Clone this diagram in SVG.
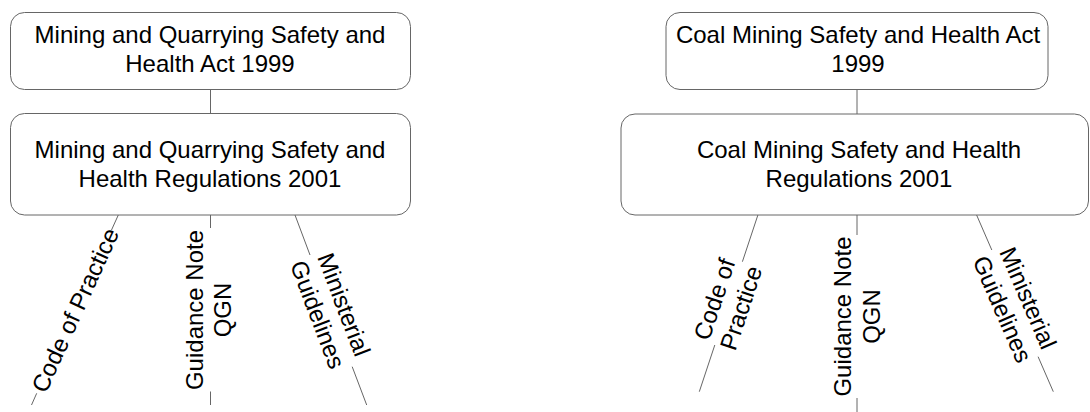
<svg xmlns="http://www.w3.org/2000/svg" width="1090" height="412" viewBox="0 0 1090 412">
<style>
.box{fill:#fff;stroke:#666;stroke-width:1}
.ln{stroke:#666;stroke-width:1;fill:none}
.t{font-family:"Liberation Sans",Arial,sans-serif;font-size:24px;fill:#000;text-anchor:middle}
.c{dominant-baseline:central}
</style>
<rect width="1090" height="412" fill="#fff"/>
<g id="connectors">
<line class="ln" x1="210.5" y1="89" x2="210.5" y2="114"/>
<line class="ln" x1="857" y1="89" x2="857" y2="114"/>
<line class="ln" x1="118.3" y1="215" x2="111.5" y2="230"/>
<line class="ln" x1="36.7" y1="393.3" x2="31.5" y2="405"/>
<line class="ln" x1="210.5" y1="215" x2="210.5" y2="228"/>
<line class="ln" x1="210.5" y1="391.5" x2="210.5" y2="405"/>
<line class="ln" x1="295" y1="215" x2="310" y2="255"/>
<line class="ln" x1="352.2" y1="366.7" x2="366.7" y2="405"/>
<line class="ln" x1="757.9" y1="215" x2="742.4" y2="261.7"/>
<line class="ln" x1="714.8" y1="345" x2="699.3" y2="391.7"/>
<line class="ln" x1="857" y1="215" x2="857" y2="235"/>
<line class="ln" x1="857" y1="398" x2="857" y2="418"/>
<line class="ln" x1="976.6" y1="215" x2="991.8" y2="250"/>
<line class="ln" x1="1038.1" y1="356.7" x2="1053.3" y2="391.7"/>
</g>
<g id="act-mq">
<rect class="box" x="10.5" y="12.5" width="400" height="77" rx="14"/>
<text class="t" x="210" y="43">Mining and Quarrying Safety and</text>
<text class="t" x="210" y="71.5">Health Act 1999</text>
</g>
<g id="reg-mq">
<rect class="box" x="10.5" y="113.5" width="400" height="101.5" rx="14"/>
<text class="t" x="210" y="158.3">Mining and Quarrying Safety and</text>
<text class="t" x="210" y="186.7">Health Regulations 2001</text>
</g>
<g id="act-coal">
<rect class="box" x="666" y="12.5" width="382" height="77" rx="14"/>
<text class="t" x="858" y="43">Coal Mining Safety and Health Act</text>
<text class="t" x="858" y="71.5">1999</text>
</g>
<g id="reg-coal">
<rect class="box" x="621" y="114" width="467.5" height="101" rx="14"/>
<text class="t" x="859" y="158.3">Coal Mining Safety and Health</text>
<text class="t" x="859" y="186.7">Regulations 2001</text>
</g>
<g id="cop-mq">
<text class="t c" transform="translate(75,310) rotate(-65.45)" x="0" y="0">Code of Practice</text>
</g>
<g id="qgn-mq">
<g transform="translate(208,310) rotate(-90)">
<text class="t c" x="0" y="-14">Guidance Note</text>
<text class="t c" x="0" y="14">QGN</text>
</g>
</g>
<g id="min-mq">
<g transform="translate(331,309.5) rotate(69.2)">
<text class="t c" x="0" y="-14">Ministerial</text>
<text class="t c" x="0" y="14">Guidelines</text>
</g>
</g>
<g id="cop-coal">
<g transform="translate(727.5,303.5) rotate(-71.65)">
<text class="t c" x="0" y="-14">Code of</text>
<text class="t c" x="0" y="14">Practice</text>
</g>
</g>
<g id="qgn-coal">
<g transform="translate(857,316.5) rotate(-90)">
<text class="t c" x="0" y="-14.5">Guidance Note</text>
<text class="t c" x="0" y="14.5">QGN</text>
</g>
</g>
<g id="min-coal">
<g transform="translate(1015.4,303.5) rotate(66.52)">
<text class="t c" x="0" y="-14">Ministerial</text>
<text class="t c" x="0" y="14">Guidelines</text>
</g>
</g>
</svg>
